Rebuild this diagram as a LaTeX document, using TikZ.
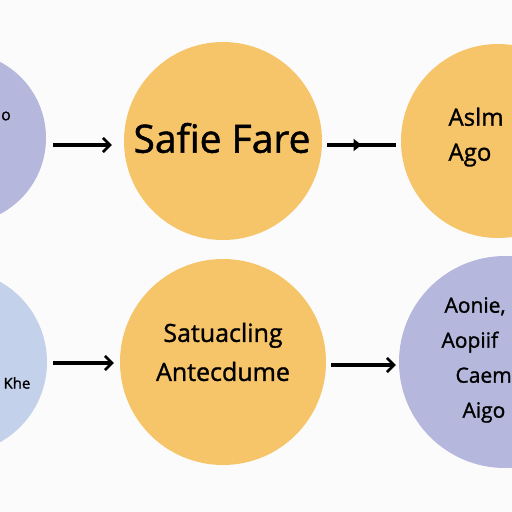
\documentclass[tikz,border=0pt]{standalone}
\usepackage{fontspec}
\setmainfont{Open Sans}[FakeBold=1.2]
\usetikzlibrary{arrows.meta,decorations.markings}
\definecolor{bg}{HTML}{FBFBFB}
\definecolor{orangec}{HTML}{F6C469}
\definecolor{lavc}{HTML}{B5B7DC}
\definecolor{bluec}{HTML}{C4D1EA}
\tikzset{
  disc/.style={circle, draw=none, inner sep=0pt, minimum size=#1},
  arr/.style={line width=3.2pt, -{Straight Barb[length=7pt,width=14pt,line width=2.6pt]}},
  lbl/.style={align=center, font=#1, text=black},
}
\begin{document}
\begin{tikzpicture}[x=1pt,y=-1pt]
\useasboundingbox (0,0) rectangle (512,512);
\fill[bg] (0,0) rectangle (512,512);
\clip (0,0) rectangle (512,512);
% circles
\node[disc=172pt, fill=lavc] (tl) at (-40,138) {};
\node[disc=198pt, fill=orangec] (tm) at (223,141) {};
\node[disc=194pt, fill=orangec] (tr) at (498,141) {};
\node[disc=184pt, fill=bluec] (bl) at (-45,362) {};
\node[disc=206pt, fill=orangec] (bm) at (223,362) {};
\node[disc=212pt, fill=lavc] (br) at (505,362) {};
% texts
\node[lbl={\fontsize{16}{18}\selectfont}] (tlt) at (6,116) {o};
\node[lbl={\fontsize{39}{44}\selectfont}] (tmt) at (222,138) {Safie Fare};
\node[lbl={\fontsize{24}{35}\selectfont}, anchor=west, align=left] (trt) at (445,137) {Aslm\\Ago};
\node[lbl={\fontsize{15}{18}\selectfont}, anchor=west] (blt) at (0,383) {Khe};
\node[lbl={\fontsize{25}{39}\selectfont}] (bmt) at (223,352) {Satuacling\\Antecdume};
\node[lbl={\fontsize{21}{35}\selectfont}, anchor=west, align=left] (brt) at (438,360) {\hspace*{3pt}Aonie,\\Aopiif\\\hspace*{14pt}Caem\\\hspace*{21pt}Aigo};
% arrows
\draw[arr, shorten <=7pt, shorten >=12pt] (tl.east |- 0,145) -- (tm.west |- 0,145);
\draw[line width=3.2pt, shorten <=5pt, shorten >=5pt,
  postaction={decorate, decoration={markings, mark=at position 0.5 with {\arrow{Triangle[length=8pt,width=12pt]}}}}]
  (tm.east |- 0,145) -- (tr.west |- 0,145);
\draw[arr, shorten <=6pt, shorten >=6pt] (bl.east |- 0,363) -- (bm.west |- 0,363);
\draw[arr, shorten <=5pt, shorten >=3pt] (bm.east |- 0,365) -- (br.west |- 0,365);
\end{tikzpicture}
\end{document}
